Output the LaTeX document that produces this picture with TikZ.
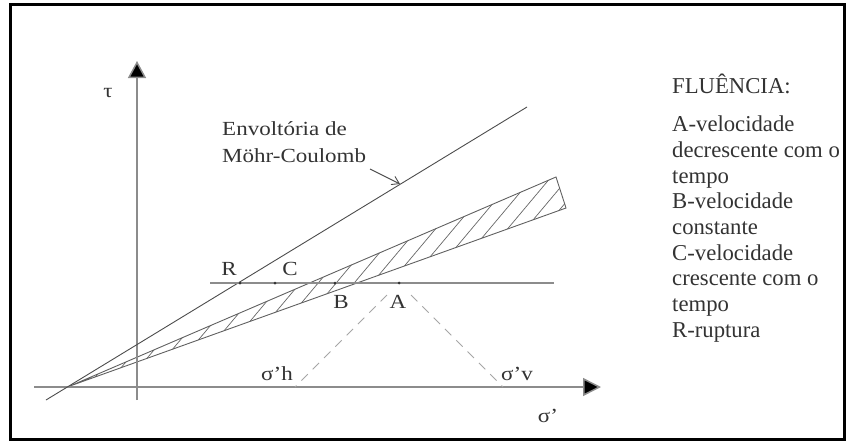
\documentclass[tikz,border=0pt]{standalone}
\usepackage{fontspec}
\setmainfont{Liberation Serif}
\usetikzlibrary{arrows.meta}
\newcommand{\sxx}[1]{\scalebox{1.15}[1]{#1}}
\begin{document}
\begin{tikzpicture}[x=1pt,y=-1pt,
  axisline/.style={draw=gray!90, line width=1.5pt},
  thinline/.style={draw=gray!60!black, line width=0.9pt},
  wedgeline/.style={draw=gray!75!black, line width=0.9pt},
  dashline/.style={draw=gray!70, line width=1pt, dash pattern=on 9pt off 7pt},
  lbl/.style={inner sep=0pt, text=black!80, font=\fontsize{20}{24}\selectfont},
  txt/.style={inner sep=0pt, anchor=base west, text=black!80, font=\fontsize{22.7}{25.7}\selectfont},
  dotpt/.style={fill=black!80}
]
\useasboundingbox (0,0) rectangle (854,442);
\draw[line width=3pt] (10,4) rectangle (844,439);
% coordinates
\coordinate (X1) at (34,387);
\coordinate (X2) at (601,387);
\coordinate (Y1) at (137,400);
\coordinate (Y2) at (137,61);
\coordinate (M1) at (46,400);
\coordinate (M2) at (527,107);
\coordinate (O) at (70,386);
\coordinate (P) at (556,177);
\coordinate (Q) at (566,208);
\coordinate (H1) at (210,283);
\coordinate (H2) at (554,283);
\coordinate (R) at (240,283);
\coordinate (C) at (275,283);
\coordinate (B) at (335,283);
\coordinate (A) at (399,283);
\coordinate (SH) at (295,387);
\coordinate (SV) at (503,387);
\coordinate (L1) at (370,169);
\coordinate (L2) at (400,184);
% hatch
\begin{scope}
  \clip (O) -- (P) -- (Q) -- cycle;
  \foreach \xx in {40,58,...,600}{
    \draw[draw=gray!80!black, line width=0.7pt] (\xx,400) -- ++(250,-298);
  }
\end{scope}
\draw[wedgeline] (O) -- (P) -- (Q) -- cycle;
% axes
\draw[axisline, -{Triangle[length=18pt,width=18pt,fill=black]}] (X1) -- (X2);
\draw[axisline, -{Triangle[length=17pt,width=18pt,fill=black]}] (Y1) -- (Y2);
% Mohr-Coulomb
\draw[thinline] (M1) -- (M2);
\draw[thinline, -{Straight Barb[length=7pt,width=9pt]}] (L1) -- (L2);
% horizontal line
\draw[axisline, line width=1.3pt] (H1) -- (H2);
\foreach \pp in {R,C,B,A}{\fill[dotpt] (\pp) circle (1.5pt);}
% dashed
\draw[dashline, shorten <=17pt] (A) -- (SH);
\draw[dashline, shorten <=17pt] (A) -- (SV);
% labels
\node[lbl, anchor=base] (tau) at (108,97) {\sxx{τ}};
\node[lbl, anchor=base] (sig) at (548,422) {\sxx{σ'}};
\node[lbl, anchor=base] (lR) at (229,275) {\sxx{R}};
\node[lbl, anchor=base] (lC) at (290,275) {\sxx{C}};
\node[lbl, anchor=base] (lB) at (341,308) {\sxx{B}};
\node[lbl, anchor=base] (lA) at (398,308) {\sxx{A}};
\node[lbl, anchor=base] (lsh) at (277,380) {\sxx{σ'h}};
\node[lbl, anchor=base] (lsv) at (517,380) {\sxx{σ'v}};
\node[lbl, anchor=base west] (env1) at (222,135) {\sxx{Envoltória de}};
\node[lbl, anchor=base west] (env2) at (222,162) {\sxx{Möhr-Coulomb}};
% legend
\node[txt] (t0) at (672,93.3) {FLUÊNCIA:};
\node[txt] (t1) at (672,131.7) {A-velocidade};
\node[txt] (t2) at (672,157.4) {decrescente com o};
\node[txt] (t3) at (672,183.1) {tempo};
\node[txt] (t4) at (672,208.8) {B-velocidade};
\node[txt] (t5) at (672,234.5) {constante};
\node[txt] (t6) at (672,260.2) {C-velocidade};
\node[txt] (t7) at (672,285.9) {crescente com o};
\node[txt] (t8) at (672,311.6) {tempo};
\node[txt] (t9) at (672,337.3) {R-ruptura};
\end{tikzpicture}
\end{document}
